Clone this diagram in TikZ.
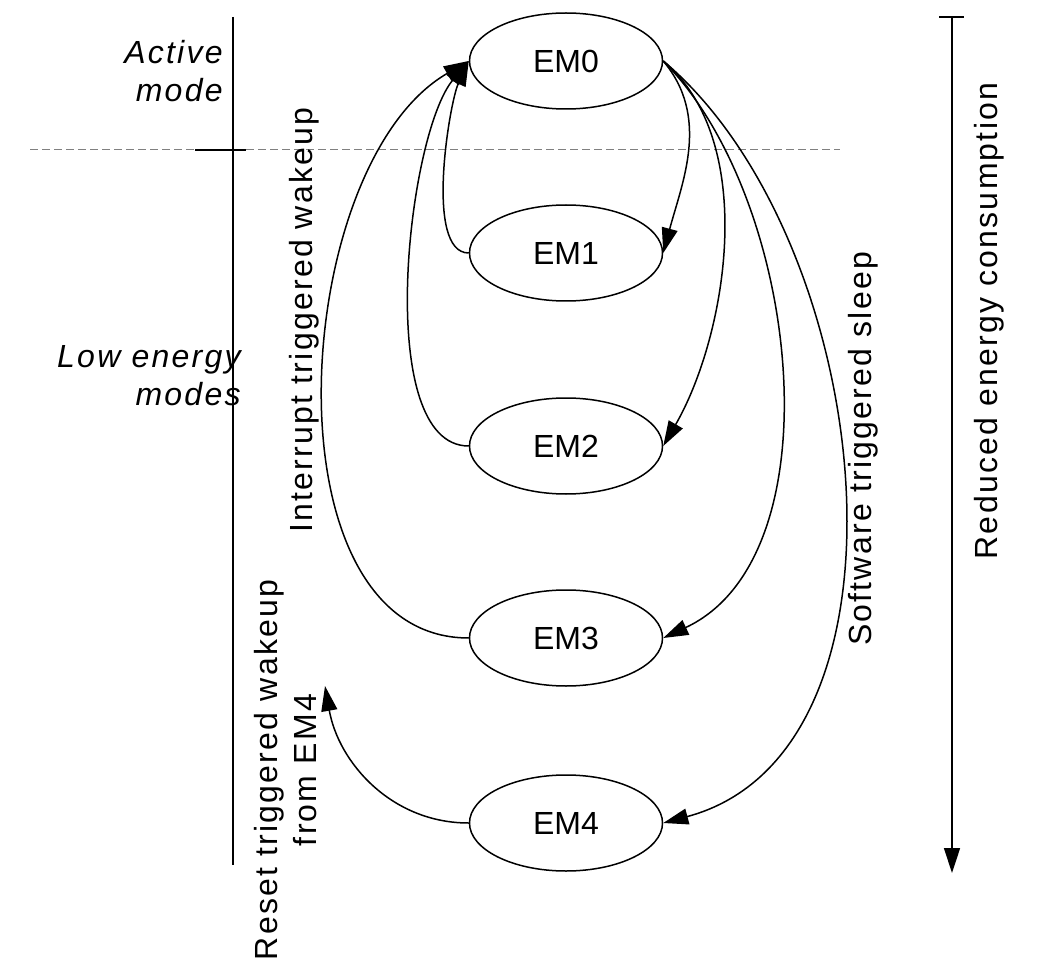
\documentclass[tikz,border=0pt]{standalone}
\usepackage{fontspec}
\setmainfont{Liberation Sans}
\newfontfamily\spaced[LetterSpace=7]{Liberation Sans}
\usepackage{tikz}
\usetikzlibrary{shapes.geometric,arrows.meta}

\tikzset{
  mode/.style={draw, ellipse, line width=0.75pt, minimum width=96.5pt,
    minimum height=48pt, inner sep=0pt, font=\fontsize{16}{19}\selectfont},
  flow/.style={-{Triangle[length=12.5pt,width=8pt]}, line width=0.75pt},
  side/.style={inner sep=0pt, font=\spaced\fontsize{16}{19.5}\selectfont},
  sideit/.style={side, align=right, anchor=east,
    font=\spaced\itshape\fontsize{16}{19}\selectfont}
}

\begin{document}
\begin{tikzpicture}[x=0.5pt,y=0.5pt]
  \useasboundingbox (0,0) rectangle (1043,-978);

  % scale on the left
  \coordinate (ltop) at (233,-17);
  \coordinate (lbot) at (233,-865);
  \coordinate (dl) at (30,-150);
  \coordinate (dr) at (840,-150);
  \coordinate (tl) at (195,-150);
  \coordinate (tr) at (246,-150);
  \draw[gray, line width=0.5pt, dash pattern=on 4pt off 2pt] (dl) -- (dr);
  \draw[line width=0.75pt] (ltop) -- (lbot);
  \draw[line width=0.75pt] (tl) -- (tr);

  \node[sideit] (active) at (223,-71) {Active\\mode};
  \node[sideit] (low) at (241,-376) {Low energy\\modes};

  % energy modes
  \node[mode] (em0) at (566,-61) {EM0};
  \node[mode] (em1) at (566,-253) {EM1};
  \node[mode] (em2) at (566,-446) {EM2};
  \node[mode] (em3) at (566,-638) {EM3};
  \node[mode] (em4) at (566,-823) {EM4};

  % wakeup
  \draw[flow] (em1.west) to[out=180,in=-115,looseness=0.6] (em0.west);
  \draw[flow] (em2.west) to[out=180,in=-130,looseness=0.64] (em0.west);
  \draw[flow] (em3.west) to[out=180,in=-150,looseness=0.92] (em0.west);
  \node[side, rotate=90, anchor=base] (wakeup) at (312,-320) {Interrupt triggered wakeup};

  % sleep
  \draw[flow] (em0.east) to[out=-50,in=75,looseness=0.98] (em1.east);
  \draw[flow] (em0.east) to[out=-40,in=60,looseness=0.84] (em2.east);
  \draw[flow] (em0.east) to[out=-45,in=25,looseness=0.86] (em3.east);
  \draw[flow] (em0.east) to[out=-40,in=15,looseness=0.93] (em4.east);
  \node[side, rotate=90, anchor=base] (sleep) at (871,-449) {Software triggered sleep};

  % reset from EM4
  \coordinate (resettip) at (325,-686);
  \draw[flow] (em4.west) to[out=180,in=-80] (resettip);
  \node[side, rotate=90, align=center] (reset) at (286,-770) {Reset triggered wakeup\\from EM4};

  % scale on the right
  \coordinate (rtop) at (952,-17);
  \coordinate (rbot) at (952,-873);
  \coordinate (rtl) at (939,-17);
  \coordinate (rtr) at (964,-17);
  \draw[flow] (rtop) -- (rbot);
  \draw[line width=0.75pt] (rtl) -- (rtr);
  \node[side, rotate=90, anchor=base] (energy) at (997,-321) {Reduced energy consumption};
\end{tikzpicture}
\end{document}
